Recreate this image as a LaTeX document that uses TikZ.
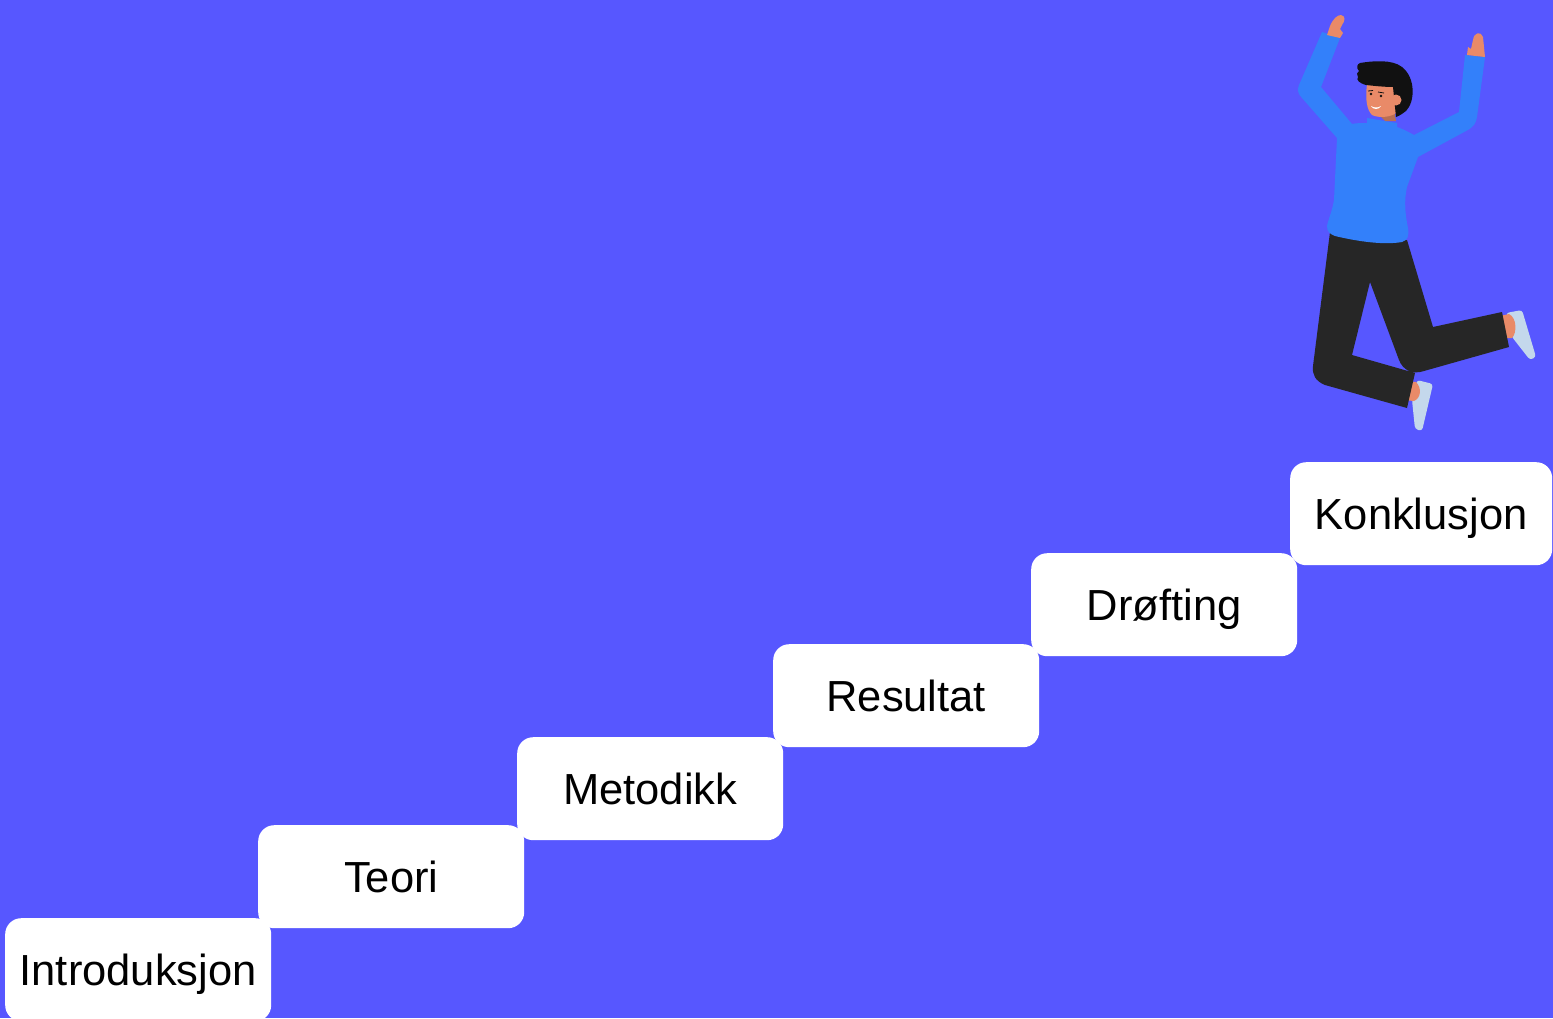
\documentclass[tikz,border=0pt]{standalone}
\usepackage{fontspec}
\setmainfont{Liberation Sans}
\definecolor{bgblue}{HTML}{5757FF}
\definecolor{shirt}{HTML}{3380FA}
\definecolor{pants}{HTML}{262626}
\definecolor{skin}{HTML}{E98A68}
\definecolor{hair}{HTML}{111111}
\definecolor{shoe}{HTML}{C4D8EC}
\begin{document}
\begin{tikzpicture}[x=1pt,y=-1pt,
  stepbox/.style={fill=white, rounded corners=16pt, minimum width=266pt,
    minimum height=103pt, inner sep=0pt, text height=31.5pt, text depth=0pt,
    font=\fontsize{43.5}{52}\selectfont, anchor=north west}]
\fill[bgblue] (0,0) rectangle (1553,1018);
\useasboundingbox (0,0) rectangle (1553,1018);

% the staircase of stages
\node[stepbox] (intro) at (5,918) {Introduksjon};
\node[stepbox] (teori) at (258,825) {Teori};
\node[stepbox] (metodikk) at (517,737) {Metodikk};
\node[stepbox] (resultat) at (773,644) {Resultat};
\node[stepbox] (drofting) at (1031,553) {Drøfting};
\node[stepbox, minimum width=262pt] (konklusjon) at (1290,462) {Konklusjon};

% jumping figure on the top step
% shoes
\fill[shoe, rounded corners=3pt] (1506,313) -- (1522,310) -- (1536,357) -- (1530,360) -- (1512,337) -- cycle;
\fill[shoe, rounded corners=3pt] (1417,380) -- (1433,384) -- (1422,431) -- (1415,429) -- (1412,400) -- cycle;
% ankles
\fill[skin] (1500,316) -- (1509,314) .. controls (1517,318) and (1517,333) .. (1512,338) -- (1504,338) -- cycle;
\fill[skin] (1405,381) -- (1416,382) .. controls (1422,388) and (1421,398) .. (1414,401) -- (1404,400) -- cycle;
% trousers
\fill[pants] (1330,232)
  .. controls (1360,240) and (1385,243) .. (1407,240)
  -- (1433,327) -- (1502,312) -- (1509,347) -- (1424,371)
  .. controls (1412,375) and (1403,370) .. (1399,360)
  -- (1370,282) -- (1352,355) -- (1415,373) -- (1407,408) -- (1325,385)
  .. controls (1315,381) and (1312,374) .. (1313,366)
  -- cycle;
% shirt with both arms
\fill[shirt] (1352,124) -- (1321,87) -- (1340,38) -- (1322,32)
  -- (1299,85) .. controls (1297,90) and (1298,94) .. (1302,98)
  -- (1337,138)
  -- (1334,200) .. controls (1332,212) and (1328,220) .. (1327,226)
  .. controls (1327,232) and (1330,234) .. (1335,236)
  .. controls (1360,242) and (1385,245) .. (1402,242)
  .. controls (1408,240) and (1409,236) .. (1408,228)
  .. controls (1405,214) and (1404,200) .. (1407,187)
  -- (1418,157) -- (1466,131) .. controls (1474,127) and (1476,123) .. (1477,117)
  -- (1485,57) -- (1465,55) -- (1459,112) -- (1414,135)
  .. controls (1405,130) and (1400,128) .. (1397,127)
  -- (1397,123) -- (1367,118) -- (1367,123) .. controls (1362,123) and (1356,123) .. (1352,124) -- cycle;
% hands
\fill[skin] (1327,35) -- (1330,26) .. controls (1333,19) and (1337,15) .. (1341,15)
  .. controls (1346,16) and (1345,21) .. (1342,25) -- (1340,29) -- (1343,33) -- (1340,38) -- cycle;
\fill[skin] (1467,55) -- (1468,47) -- (1471,49) -- (1473,40)
  .. controls (1474,32) and (1481,31) .. (1483,37) -- (1485,57) -- cycle;
% neck and face
\fill[skin!80!black] (1376,112) -- (1394,110) -- (1396,121) -- (1385,121) -- cycle;
\fill[skin] (1367,84) -- (1396,79) -- (1398,112) .. controls (1390,118) and (1378,118) .. (1372,115)
  .. controls (1367,110) and (1365,100) .. (1367,84) -- cycle;
% hair
\fill[hair] (1360,63) .. controls (1372,61) and (1392,59) .. (1402,67)
  .. controls (1416,78) and (1415,102) .. (1406,111)
  .. controls (1402,114) and (1399,116) .. (1396,117)
  -- (1393,87) .. controls (1385,87) and (1375,86) .. (1366,85)
  .. controls (1359,83) and (1356,80) .. (1358,77)
  .. controls (1356,75) and (1357,72) .. (1359,71)
  .. controls (1356,68) and (1357,64) .. (1360,63) -- cycle;
% ear
\fill[skin] (1396,100) circle[radius=5.5];
% eyes and smile
\fill[hair] (1371,94) circle[radius=1.3];
\fill[hair] (1381,96) circle[radius=1.3];
\draw[hair, line width=0.8pt] (1368,91) -- (1373,90.5);
\draw[hair, line width=0.8pt] (1378,92) -- (1384,93);
\fill[white] (1371,106) .. controls (1374,108) and (1378,108) .. (1381,106)
  .. controls (1379,110) and (1373,110) .. (1371,106) -- cycle;
\end{tikzpicture}
\end{document}
